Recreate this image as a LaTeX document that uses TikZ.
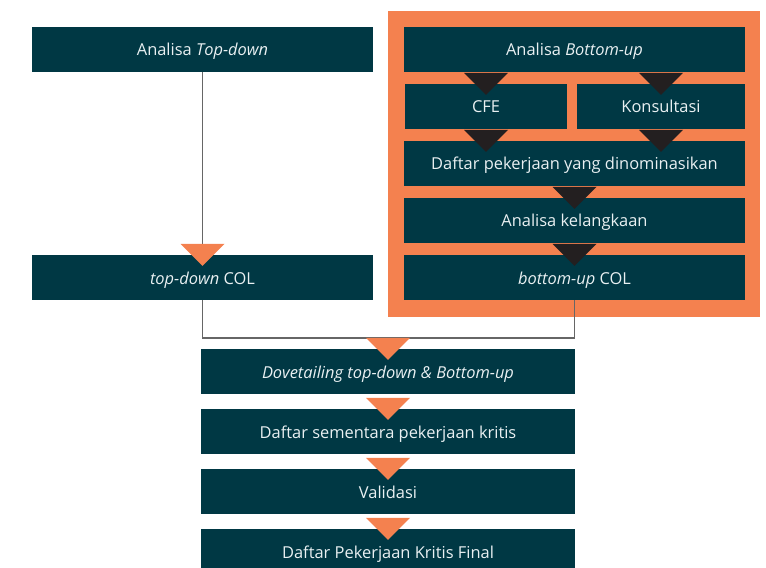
\documentclass[tikz,border=0pt]{standalone}
\usepackage{fontspec}
\setmainfont{Open Sans}
\usetikzlibrary{calc}
\definecolor{boxteal}{HTML}{003844}
\definecolor{accent}{HTML}{F4814F}
\definecolor{pointer}{HTML}{231F20}
\definecolor{wire}{HTML}{666666}
\definecolor{label}{HTML}{E9F0F2}
% downward-pointing wedge centred on a box edge
\newcommand\flowwedge[2]{\fill[#1] ($(#2)+(-22,-11)$) -- ($(#2)+(22,-11)$) -- ($(#2)+(0,11)$) -- cycle;}
\begin{document}
\begin{tikzpicture}[x=1bp,y=-1bp,
  box/.style={fill=boxteal,text=label,inner sep=0pt,minimum height=45bp,
    text height=13bp,text depth=0bp,
    font=\fontsize{16.5}{19}\selectfont},
  wide/.style={box,minimum width=341bp},
  lower/.style={box,minimum width=374bp},
  wire line/.style={draw=wire,line width=1.5bp}]
\useasboundingbox (0,0) rectangle (766,568);

% bottom-up frame
\fill[accent] (388,11) rectangle (760,317);

% left column
\node[wide] (atd) at (202.5,49.5) {Analisa \textit{Top-down}};
\node[wide] (tdc) at (202.5,277.5) {\textit{top-down} COL};

% right column inside the frame
\node[wide] (abu) at (574.5,49.5) {Analisa \textit{Bottom-up}};
\node[box,minimum width=162bp] (cfe) at (486,106.5) {CFE};
\node[box,minimum width=168bp] (kon) at (661,106.5) {Konsultasi};
\node[wide] (dpk) at (574.5,163.5) {Daftar pekerjaan yang dinominasikan};
\node[wide] (akl) at (574.5,220.5) {Analisa kelangkaan};
\node[wide] (buc) at (574.5,277.5) {\textit{bottom-up} COL};

% merged column
\node[lower] (dov) at (388,371.5) {\textit{Dovetailing top-down \& Bottom-up}};
\node[lower] (dsp) at (388,431.5) {Daftar sementara pekerjaan kritis};
\node[lower] (val) at (388,491.5) {Validasi};
\node[lower] (fin) at (388,551.5) {Daftar Pekerjaan Kritis Final};

% connectors
\draw[wire line] (atd.south) -- (tdc.north);
\draw[wire line] (tdc.south) -- ++(0,38) -| (buc.south);

% wedges inside the frame
\flowwedge{pointer}{cfe.north}
\flowwedge{pointer}{kon.north}
\flowwedge{pointer}{cfe.south |- dpk.north}
\flowwedge{pointer}{kon.south |- dpk.north}
\flowwedge{pointer}{akl.north}
\flowwedge{pointer}{buc.north}

% wedges outside the frame
\flowwedge{accent}{tdc.north}
\flowwedge{accent}{dov.north}
\flowwedge{accent}{dsp.north}
\flowwedge{accent}{val.north}
\flowwedge{accent}{fin.north}
\end{tikzpicture}
\end{document}
